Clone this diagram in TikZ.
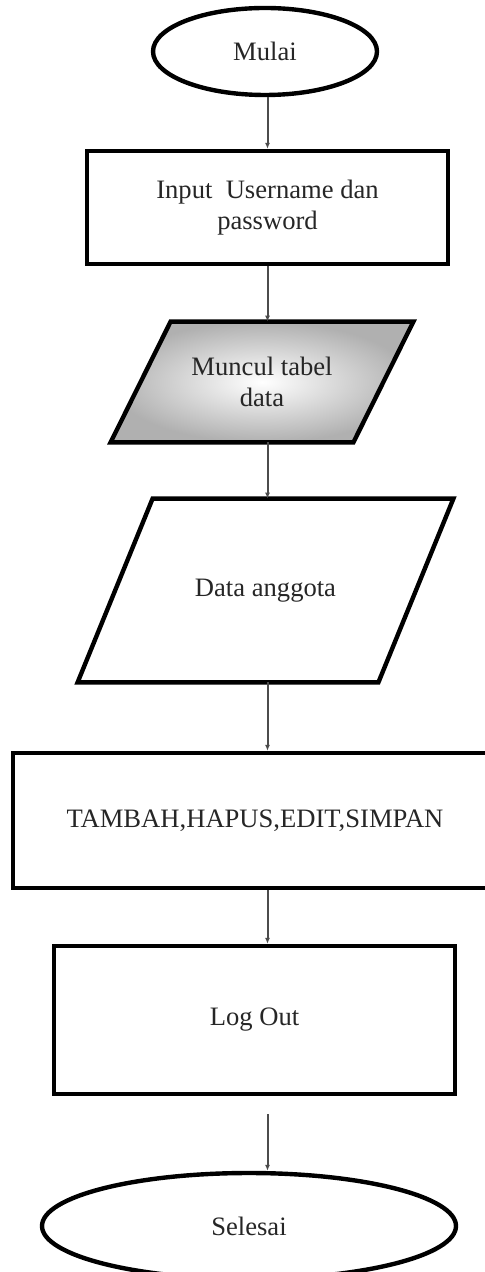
\documentclass[tikz,border=0pt]{standalone}
\usepackage{fontspec}
\setmainfont{Liberation Serif}
\usepackage{xcolor}
\usetikzlibrary{shapes.geometric}
\usetikzlibrary{arrows.meta}
\usetikzlibrary{backgrounds}

\begin{document}
\begin{tikzpicture}[x=0.5pt,y=-0.5pt,
    terminal/.style={ellipse,line width=2.2pt,draw=black,inner sep=0pt},
    process/.style={rectangle,line width=2.2pt,draw=black,inner sep=0pt},
    io/.style={rectangle,inner sep=0pt},
    ioshape/.style={line width=2.2pt,draw=black,line join=miter},
    every node/.append style={font=\fontsize{13.3}{15.5}\selectfont,text=black!85,align=center}]
\useasboundingbox (0,0) rectangle (485,1272);

\begin{scope}
    \node[terminal,minimum width=112pt,minimum height=43.5pt] (mulai) at (265,51.5) {Mulai};
    \node[process,minimum width=180.5pt,minimum height=56.5pt] (login) at (267.5,207.5) {Input\enspace Username dan\\password};
    \node[io,minimum width=151pt,minimum height=60pt] (tabel) at (262,382) {Muncul tabel\\data};
    \node[io,minimum width=187.5pt,minimum height=91.5pt] (anggota) at (265.5,590.5) {Data anggota};
    \node[process,minimum width=242pt,minimum height=67.5pt] (aksi) at (255,820.5) {TAMBAH,HAPUS,EDIT,SIMPAN};
    \node[process,minimum width=200.5pt,minimum height=74pt] (logout) at (254.5,1020) {Log Out};
    \node[terminal,minimum width=207pt,minimum height=53pt] (selesai) at (249,1226) {Selesai};
\end{scope}

% parallelograms behind the text
\begin{scope}[on background layer]
    \draw[ioshape,inner color=white,outer color=gray!62]
        ([xshift=30pt]tabel.north west) -- (tabel.north east)
        -- ([xshift=-30pt]tabel.south east) -- (tabel.south west) -- cycle;
    \draw[ioshape]
        ([xshift=37.5pt]anggota.north west) -- (anggota.north east)
        -- ([xshift=-37.5pt]anggota.south east) -- (anggota.south west) -- cycle;
\end{scope}

\begin{scope}[>={Latex[length=3pt,width=2.6pt]},
              every edge/.style={draw=black!70,line width=1pt}]
    \path [->] (mulai.south -| login.south) edge (login.north);
    \path [->] (login.south) edge (tabel.north -| login.south);
    \path [->] (tabel.south -| login.south) edge (anggota.north -| login.south);
    \path [->] (anggota.south -| login.south) edge (aksi.north -| login.south);
    \path [->] (aksi.south -| login.south) edge (logout.north -| login.south);
    \path [->] (logout.south -| login.south) edge[shorten <=9pt] (selesai.north -| login.south);
\end{scope}

\end{tikzpicture}
\end{document}
